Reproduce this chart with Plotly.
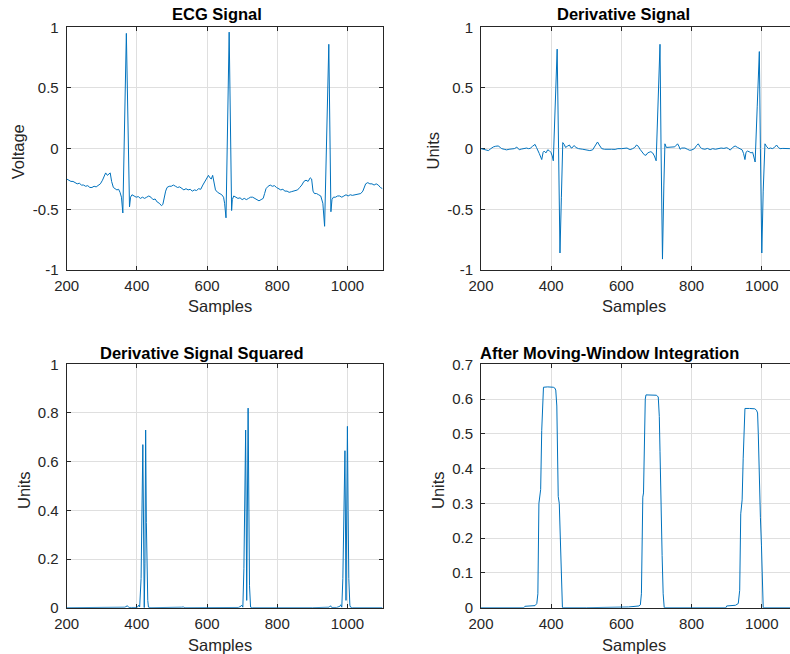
import plotly.graph_objects as go

# ---------------- data ----------------
ecg_x = [200, 206, 212, 218, 224, 230, 236, 242, 248, 254, 260, 266, 272, 278, 284, 290, 296, 302, 307, 311,
         316, 320, 324, 328, 333, 338, 343, 348, 352, 356, 360, 370, 379, 382, 386, 392, 398, 404, 410, 416,
         422, 428, 434, 440, 446, 452, 458, 464, 470, 474, 478, 482, 486, 492, 498, 504, 510, 516, 522, 528,
         534, 540, 546, 552, 558, 564, 570, 576, 582, 588, 594, 600, 604, 608, 612, 616, 620, 624, 630, 636,
         642, 647, 650, 654, 663, 670, 672, 676, 682, 688, 694, 700, 706, 712, 718, 724, 730, 736, 742, 748,
         754, 760, 764, 768, 774, 780, 786, 792, 798, 804, 810, 816, 822, 828, 834, 840, 846, 852, 858, 864,
         870, 876, 882, 888, 894, 898, 902, 906, 912, 918, 924, 930, 935, 947, 953, 956, 960, 966, 972, 978,
         984, 990, 996, 1002, 1008, 1014, 1020, 1026, 1032, 1038, 1044, 1048, 1052, 1058, 1064, 1070, 1076,
         1082, 1088, 1094, 1100]
ecg_y = [-0.25, -0.26, -0.27, -0.27, -0.28, -0.29, -0.285, -0.30, -0.30, -0.31, -0.305, -0.32, -0.32, -0.31,
         -0.315, -0.30, -0.29, -0.26, -0.22, -0.20, -0.22, -0.21, -0.20, -0.27, -0.32, -0.33, -0.34, -0.335,
         -0.36, -0.40, -0.53, 0.95, -0.48, -0.40, -0.38, -0.39, -0.40, -0.395, -0.41, -0.40, -0.41, -0.40,
         -0.39, -0.40, -0.42, -0.415, -0.44, -0.45, -0.47, -0.46, -0.40, -0.35, -0.32, -0.31, -0.31, -0.30,
         -0.31, -0.32, -0.315, -0.33, -0.34, -0.33, -0.34, -0.335, -0.35, -0.34, -0.345, -0.33, -0.335, -0.30,
         -0.27, -0.23, -0.22, -0.24, -0.25, -0.22, -0.28, -0.34, -0.36, -0.37, -0.38, -0.40, -0.45, -0.57,
         0.96, -0.51, -0.42, -0.39, -0.40, -0.41, -0.405, -0.42, -0.41, -0.42, -0.41, -0.40, -0.40, -0.41,
         -0.42, -0.43, -0.42, -0.41, -0.37, -0.33, -0.31, -0.30, -0.31, -0.305, -0.32, -0.33, -0.34, -0.335,
         -0.35, -0.35, -0.36, -0.355, -0.35, -0.35, -0.34, -0.32, -0.30, -0.27, -0.26, -0.27, -0.24, -0.25,
         -0.35, -0.37, -0.37, -0.38, -0.39, -0.45, -0.64, 0.86, -0.52, -0.42, -0.40, -0.40, -0.39, -0.39,
         -0.40, -0.39, -0.38, -0.39, -0.38, -0.385, -0.38, -0.38, -0.375, -0.37, -0.35, -0.31, -0.29, -0.28,
         -0.29, -0.29, -0.30, -0.29, -0.30, -0.32, -0.33]

der_x = [200, 210, 221, 228, 235, 242, 249, 255, 259, 266, 273, 280, 287, 295, 302, 306, 309, 316, 323, 330,
         335, 340, 347, 354, 358, 361, 366, 373, 377, 380, 385, 390, 394, 399, 403, 406, 412, 417, 421, 425,
         429, 433, 437, 441, 446, 452, 456, 459, 463, 466, 470, 478, 490, 500, 510, 518, 524, 528, 532, 537,
         544, 552, 563, 572, 582, 590, 601, 608, 616, 622, 625, 632, 638, 643, 648, 653, 660, 665, 670, 675,
         679, 684, 689, 694, 699, 705, 710, 713, 717, 721, 724, 728, 733, 738, 745, 752, 757, 760, 764, 767,
         772, 781, 788, 795, 801, 808, 814, 819, 824, 829, 838, 845, 853, 860, 868, 877, 884, 892, 900, 905,
         910, 917, 924, 931, 938, 944, 948, 952, 955, 959, 964, 969, 974, 978, 981, 987, 993, 996, 1000, 1004,
         1009, 1013, 1019, 1025, 1030, 1036, 1042, 1047, 1052, 1060, 1070, 1080, 1090, 1100]
der_y = [0.0, -0.005, -0.016, 0.0, 0.014, 0.02, 0.022, 0.01, 0.0, -0.005, -0.01, -0.005, 0.0, 0.0, 0.012, 0.0,
         -0.008, -0.003, 0.002, 0.005, 0.0, 0.002, 0.02, 0.035, 0.01, -0.015, -0.04, -0.09, -0.03, -0.02,
         -0.035, -0.01, -0.015, -0.03, -0.06, -0.10, 0.35, 0.82, 0.0, -0.86, -0.40, 0.05, 0.035, 0.01, 0.02,
         0.03, 0.008, 0.005, 0.02, 0.025, 0.01, 0.0, -0.005, -0.012, -0.016, -0.01, 0.02, 0.045, 0.055, 0.03,
         0.0, -0.005, -0.008, -0.005, -0.006, 0.0, 0.0, 0.005, 0.005, -0.005, -0.008, 0.0, 0.01, 0.03, 0.02,
         -0.005, -0.03, -0.05, -0.055, -0.035, -0.03, -0.025, -0.035, -0.06, -0.10, 0.40, 0.86, 0.0, -0.91,
         -0.30, 0.04, 0.01, 0.01, 0.01, 0.012, 0.015, 0.03, 0.04, 0.02, -0.005, 0.005, 0.005, -0.005, -0.014,
         -0.01, 0.0, 0.025, 0.04, 0.015, 0.0, -0.005, 0.002, -0.008, 0.0, -0.005, 0.0, 0.005, 0.002, 0.008,
         0.0, -0.012, 0.01, 0.022, 0.01, 0.0, -0.01, -0.04, -0.09, -0.03, -0.02, -0.025, -0.035, -0.03, -0.07,
         -0.11, 0.35, 0.80, 0.0, -0.86, -0.35, 0.04, 0.02, 0.0, 0.005, 0.0, 0.01, 0.03, 0.01, 0.0, 0.002,
         -0.002, 0.0, 0.0, 0.0]

sq_x = [200, 300, 350, 366, 373, 377, 385, 394, 399, 403, 406, 408, 412, 417, 419, 421, 423, 425, 427, 429,
        431, 433, 440, 528, 532, 537, 600, 660, 670, 675, 689, 694, 699, 702, 705, 710, 713, 717, 719, 721,
        724, 730, 900, 948, 952, 955, 969, 978, 981, 984, 987, 993, 996, 1000, 1002, 1004, 1007, 1009, 1015,
        1100]
sq_y = [0.0, 0.0, 0.001, 0.002, 0.008, 0.001, 0.001, 0.0, 0.001, 0.004, 0.011, 0.003, 0.12, 0.67, 0.20, 0.0,
        0.18, 0.73, 0.35, 0.16, 0.03, 0.002, 0.0, 0.002, 0.003, 0.0, 0.0, 0.001, 0.003, 0.001, 0.001, 0.004,
        0.01, 0.002, 0.16, 0.73, 0.03, 0.82, 0.40, 0.09, 0.002, 0.0, 0.0, 0.002, 0.008, 0.001, 0.001, 0.005,
        0.012, 0.002, 0.12, 0.645, 0.03, 0.745, 0.40, 0.12, 0.01, 0.002, 0.0, 0.0]

mwi_x = [200, 250, 322, 325, 354, 359, 362, 365, 367, 370, 373, 376, 378, 390, 400, 406, 410, 413, 416, 418,
         420, 423, 425, 427, 430, 432, 500, 560, 620, 650, 654, 657, 659, 661, 663, 665, 668, 670, 685, 700,
         705, 708, 710, 712, 714, 716, 719, 722, 800, 898, 900, 925, 933, 937, 940, 942, 944, 947, 950, 952,
         965, 980, 985, 988, 990, 992, 994, 996, 999, 1002, 1004, 1100]
mwi_y = [0.0, 0.0, 0.0, 0.004, 0.006, 0.012, 0.04, 0.30, 0.325, 0.34, 0.51, 0.62, 0.634, 0.635, 0.635, 0.634,
         0.632, 0.626, 0.58, 0.45, 0.32, 0.30, 0.22, 0.15, 0.03, 0.0, 0.0, 0.0, 0.002, 0.005, 0.008, 0.04,
         0.30, 0.318, 0.33, 0.50, 0.60, 0.612, 0.612, 0.611, 0.606, 0.55, 0.45, 0.30, 0.28, 0.15, 0.04, 0.0,
         0.0, 0.0, 0.005, 0.007, 0.012, 0.05, 0.27, 0.30, 0.31, 0.43, 0.54, 0.573, 0.573, 0.572, 0.568, 0.56,
         0.50, 0.40, 0.28, 0.26, 0.18, 0.05, 0.0, 0.0]

x_ticks = [200, 400, 600, 800, 1000]
x_ticktext = ["200", "400", "600", "800", "1000"]
ecg_yticks = [-1, -0.5, 0, 0.5, 1]
ecg_yticktext = ["-1", "-0.5", "0", "0.5", "1"]
sq_yticks = [0, 0.2, 0.4, 0.6, 0.8, 1]
sq_yticktext = ["0", "0.2", "0.4", "0.6", "0.8", "1"]
mwi_yticks = [0, 0.1, 0.2, 0.3, 0.4, 0.5, 0.6, 0.7]
mwi_yticktext = ["0", "0.1", "0.2", "0.3", "0.4", "0.5", "0.6", "0.7"]

titles = ["ECG Signal", "Derivative Signal", "Derivative Signal Squared", "After Moving-Window Integration"]
ylabels = ["Voltage", "Units", "Units", "Units"]
xlabel = "Samples"

# ---------------- layout geometry ----------------
W, H = 790, 654
FONT = "Liberation Sans, Arial, Helvetica, sans-serif"
LINE = "#0072BD"
AX = "#262626"
GRID = "#dfdfdf"

def px_x(v):
    return v / W

def px_y(v):
    return 1 - v / H

left_dom = [px_x(66.7), px_x(382.5)]
right_dom = [px_x(481), 1.0]
top_dom = [px_y(270), px_y(27.3)]
bot_dom = [px_y(607.7), px_y(364.3)]
right_range = [200, 200 + (790 - 481) / 0.351]

fig = go.Figure()
series = [(ecg_x, ecg_y), (der_x, der_y), (sq_x, sq_y), (mwi_x, mwi_y)]
for i, (sx, sy) in enumerate(series):
    n = "" if i == 0 else str(i + 1)
    fig.add_trace(go.Scatter(x=sx, y=sy, mode="lines", line=dict(color=LINE, width=1),
                             xaxis="x" + n, yaxis="y" + n, showlegend=False, hoverinfo="skip"))

def xax(dom, anchor, rng):
    return dict(domain=dom, anchor=anchor, range=rng, tickvals=x_ticks, ticktext=x_ticktext,
                showline=True, linecolor=AX, linewidth=1, mirror="ticks", ticks="inside", ticklen=4,
                tickcolor=AX, tickwidth=1, showgrid=True, gridcolor=GRID, gridwidth=1, zeroline=False,
                tickfont=dict(family=FONT, size=15, color=AX), layer="below traces",
                ticklabelstandoff=2, fixedrange=True)

def yax(dom, anchor, rng, tv, tt, mirror):
    return dict(domain=dom, anchor=anchor, range=rng, tickvals=tv, ticktext=tt,
                showline=True, linecolor=AX, linewidth=1, mirror=mirror, ticks="inside", ticklen=4,
                tickcolor=AX, tickwidth=1, showgrid=True, gridcolor=GRID, gridwidth=1, zeroline=False,
                tickfont=dict(family=FONT, size=15, color=AX), layer="below traces",
                ticklabelstandoff=4, fixedrange=True)

fig.update_layout(
    width=W, height=H, margin=dict(l=0, r=0, t=0, b=0, autoexpand=False),
    paper_bgcolor="white", plot_bgcolor="white",
    xaxis=xax(left_dom, "y", [200, 1100]),
    yaxis=yax(top_dom, "x", [-1, 1], ecg_yticks, ecg_yticktext, "ticks"),
    xaxis2=xax(right_dom, "y2", right_range),
    yaxis2=yax(top_dom, "x2", [-1, 1], ecg_yticks, ecg_yticktext, False),
    xaxis3=xax(left_dom, "y3", [200, 1100]),
    yaxis3=yax(bot_dom, "x3", [0, 1], sq_yticks, sq_yticktext, "ticks"),
    xaxis4=xax(right_dom, "y4", right_range),
    yaxis4=yax(bot_dom, "x4", [0, 0.7], mwi_yticks, mwi_yticktext, False),
)

ann = []
title_pos = [(216.7, 14), (623, 14), (201.7, 352.7), (609, 352.7)]
for t, (x, y) in zip(titles, title_pos):
    ann.append(dict(text="<b>" + t + "</b>", x=px_x(x), y=px_y(y), xref="paper", yref="paper",
                    xanchor="center", yanchor="middle", showarrow=False,
                    font=dict(family=FONT, size=16.5, color="black")))
ylab_pos = [(18.3, 152), (432.5, 151), (24, 490), (438, 490)]
for t, (x, y) in zip(ylabels, ylab_pos):
    ann.append(dict(text=t, x=px_x(x), y=px_y(y), xref="paper", yref="paper", textangle=-90,
                    xanchor="center", yanchor="middle", showarrow=False,
                    font=dict(family=FONT, size=16.5, color=AX)))
xlab_pos = [(220, 306), (634, 306), (220, 645), (634, 645)]
for (x, y) in xlab_pos:
    ann.append(dict(text=xlabel, x=px_x(x), y=px_y(y), xref="paper", yref="paper",
                    xanchor="center", yanchor="middle", showarrow=False,
                    font=dict(family=FONT, size=16.5, color=AX)))
fig.update_layout(annotations=ann)

fig.write_html("out.html", config={"displayModeBar": False},
               post_script="document.body.style.margin='0';document.body.style.overflow='hidden';")
